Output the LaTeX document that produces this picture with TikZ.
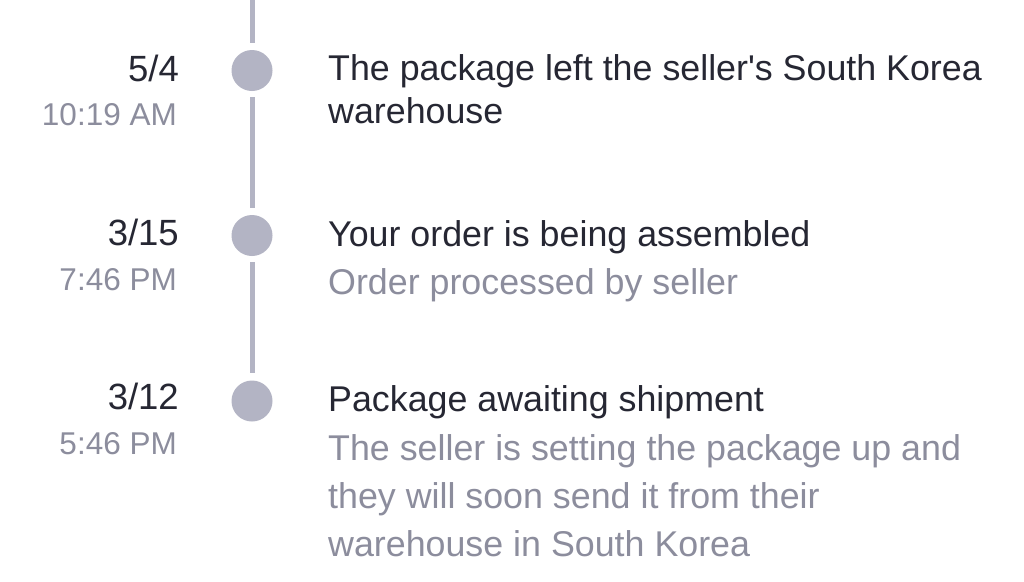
\documentclass[tikz,border=0pt]{standalone}
\usepackage{fontspec}
\setmainfont{Liberation Sans}[Ligatures=TeXOff]
\definecolor{dark}{HTML}{262733}
\definecolor{soft}{HTML}{8C8D9D}
\definecolor{rail}{HTML}{B3B4C4}
\begin{document}
\begin{tikzpicture}[x=1pt,y=-1pt,
  dot/.style={circle,fill=rail,draw=none,minimum size=41pt,inner sep=0pt},
  railline/.style={draw=rail,line width=5pt},
  datetxt/.style={anchor=base east,inner sep=0pt,text=dark,font=\fontsize{36.5}{42}\selectfont},
  timetxt/.style={anchor=base east,inner sep=0pt,text=soft,font=\fontsize{31.5}{36}\selectfont},
  titletxt/.style={anchor=base west,inner sep=0pt,text=dark,font=\fontsize{35.8}{42}\selectfont},
  desctxt/.style={anchor=base west,inner sep=0pt,text=soft,font=\fontsize{35.8}{42}\selectfont}]
\useasboundingbox (0,0) rectangle (1024,581);
\fill[white] (0,0) rectangle (1024,581);
\coordinate (top) at (252,0);
\node[dot] (c1) at (252,70.5) {};
\node[dot] (c2) at (252,235.5) {};
\node[dot] (c3) at (252,401) {};
\draw[railline,shorten >=7pt] (top) -- (c1.north);
\draw[railline,shorten <=6pt,shorten >=7pt] (c1.south) -- (c2.north);
\draw[railline,shorten <=6pt,shorten >=7pt] (c2.south) -- (c3.north);
% dates
\node[datetxt] (d1) at (179,81) {5/4};
\node[timetxt] (t1) at (177,125) {10:19 AM};
\node[datetxt] (d2) at (179,245) {3/15};
\node[timetxt] (t2) at (177,290) {7:46 PM};
\node[datetxt] (d3) at (179,409) {3/12};
\node[timetxt] (t3) at (177,454) {5:46 PM};
% texts
\node[titletxt] (a1) at (328,80) {The package left the seller's South Korea};
\node[titletxt] (a2) at (328,123) {warehouse};
\node[titletxt] (b1) at (328,246) {Your order is being assembled};
\node[desctxt] (b2) at (328,294) {Order processed by seller};
\node[titletxt] (e1) at (328,411.5) {Package awaiting shipment};
\node[desctxt] (e2) at (328,460.5) {The seller is setting the package up and};
\node[desctxt] (e3) at (328,508) {they will soon send it from their};
\node[desctxt] (e4) at (328,556.5) {warehouse in South Korea};
\end{tikzpicture}
\end{document}
